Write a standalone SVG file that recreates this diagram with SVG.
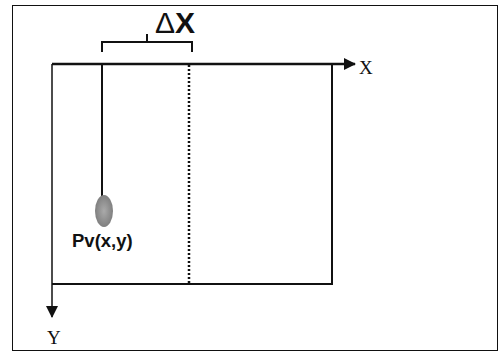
<svg xmlns="http://www.w3.org/2000/svg" width="501" height="353" viewBox="0 0 501 353">
<style>
.ln{stroke:#111;fill:none}
.serif{font-family:"Liberation Serif",serif;fill:#111}
.sans{font-family:"Liberation Sans",Arial,sans-serif;fill:#111;font-weight:bold}
</style>
<defs>
<marker id="ah" markerWidth="12" markerHeight="12" refX="11" refY="6" orient="auto" markerUnits="userSpaceOnUse">
<path d="M0,0 L12,6 L0,12 Z" fill="#111"/>
</marker>
<radialGradient id="bob" cx="0.5" cy="0.5" r="0.6">
<stop offset="0" stop-color="#aaa"/>
<stop offset="1" stop-color="#777"/>
</radialGradient>
</defs>
<rect width="501" height="353" fill="#fff"/>
<rect id="frame" x="12.5" y="5.5" width="485" height="345" class="ln" stroke-width="1"/>
<g id="connectors">
<path class="ln" stroke-width="2.5" d="M52,64 H355" marker-end="url(#ah)"/>
<path class="ln" stroke-width="1.5" d="M52,64 V317" marker-end="url(#ah)"/>
<path class="ln" stroke-width="2" d="M52,284 H332 V64"/>
<path class="ln" stroke-width="2.5" stroke-dasharray="2,2" d="M189,65 V284"/>
<path class="ln" stroke-width="2" d="M102,64 V196"/>
<path class="ln" stroke-width="2" d="M102,52 V42 H192 V52 M147,42 V34"/>
</g>
<g id="pendulum">
<ellipse cx="104" cy="211" rx="9" ry="16" fill="url(#bob)"/>
<text class="sans" x="72" y="247" font-size="18.5">Pv(x,y)</text>
</g>
<g id="deltax">
<text class="sans" x="155" y="33" font-size="30"><tspan font-weight="normal">Δ</tspan>X</text>
</g>
<text class="serif" x="359" y="74" font-size="19">X</text>
<text class="serif" x="47" y="344" font-size="19">Y</text>
</svg>
